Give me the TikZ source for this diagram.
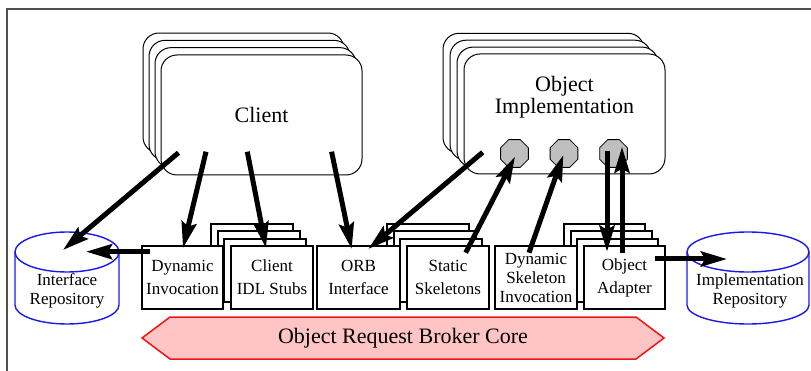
\documentclass[tikz,border=0pt]{standalone}
\usepackage{fontspec}
\setmainfont{Liberation Serif}
\usetikzlibrary{arrows.meta,shapes.geometric}
\definecolor{repoblue}{RGB}{25,25,235}
\definecolor{framegray}{RGB}{80,80,80}
\definecolor{corefill}{RGB}{255,196,196}
\definecolor{coreline}{RGB}{240,20,20}
\begin{document}
\begin{tikzpicture}[x=1pt,y=-1pt,
  layer/.style={draw, fill=white, line width=1pt, rounded corners=16pt},
  bigbox/.style={draw, fill=white, line width=1pt, rounded corners=16pt, minimum width=201pt, minimum height=120pt, inner sep=0pt, font=\fontsize{22}{22}\selectfont},
  bigtext/.style={align=center, inner sep=0pt, font=\fontsize{22}{22}\selectfont},
  slayer/.style={draw, fill=white, line width=2pt},
  smallbox/.style={draw, fill=white, line width=2pt, minimum height=63pt, inner sep=0pt, align=center, font=\fontsize{17}{23}\selectfont},
  bigarrow/.style={line width=5pt, -{Stealth[length=26pt,width=15pt,inset=4pt]}},
  port/.style={regular polygon, regular polygon sides=8, minimum size=30pt, inner sep=0pt, draw, fill=gray!50, line width=0.8pt},
  repo/.style={draw=repoblue, line width=1.4pt},
  repotext/.style={align=center, inner sep=0pt, font=\fontsize{17}{18.5}\selectfont},
]
\useasboundingbox (0,0) rectangle (811,371);
\fill[white] (0,0) rectangle (811,371);
% outer frame
\draw[framegray, line width=1.5pt] (7,371) -- (7,9) -- (811,9);

% Client stack
\foreach \k in {3,2,1} \draw[layer] ({161-6*\k},{55-7.33*\k}) rectangle +(201,120);
\node[bigbox] (client) at (261.5,115) {Client};

% Object implementation stack
\foreach \k in {3,2,1} \draw[layer] ({464-7*\k},{54-6.9*\k}) rectangle +(201,120);
\node[bigbox] (impl) at (564.5,114) {};
\node[bigtext] (impltext) at (564.5,97) {Object\\Implementation};

% ports
\node[port] (p1) at (514.5,153.5) {};
\node[port] (p2) at (564,153.5) {};
\node[port] (p3) at (613.5,153.5) {};

% lower stacks
\foreach \k in {3,2,1} {
  \draw[slayer] ({231-6.7*\k},{246-7.33*\k}) rectangle +(82,63);
  \draw[slayer] ({407-6.7*\k},{246-7.33*\k}) rectangle +(82,63);
  \draw[slayer] ({584-6.7*\k},{246-7.33*\k}) rectangle +(81,63);
}
\node[smallbox, minimum width=81pt] (di) at (182.5,277.5) {Dynamic\\Invocation};
\node[smallbox, minimum width=82pt] (idl) at (272,277.5) {Client\\IDL Stubs};
\node[smallbox, minimum width=83pt] (orb) at (358.5,277.5) {ORB\\Interface};
\node[smallbox, minimum width=82pt] (ss) at (448,277.5) {Static\\Skeletons};
\node[smallbox, minimum width=82pt, font=\fontsize{17}{19}\selectfont] (dsi) at (536,277.5) {Dynamic\\Skeleton\\Invocation};
\node[smallbox, minimum width=81pt] (oa) at (624.5,277.5) {Object\\Adapter};

% ORB core
\filldraw[fill=corefill, draw=coreline, line width=1.5pt, line join=miter]
  (142,338) -- (170,317) -- (636,317) -- (664,338) -- (636,359) -- (170,359) -- cycle;
\node[bigtext] (core) at (403,338) {Object Request Broker Core};

% repositories
\draw[repo] (67,252) ellipse [x radius=52, y radius=20];
\draw[repo] (15,252) -- (15,305) arc[start angle=180, end angle=0, x radius=52, y radius=19] -- (119,252);
\node[repotext] (ir) at (67,291) {Interface\\Repository};
\draw[repo] (748,252) ellipse [x radius=61, y radius=20];
\draw[repo] (687,252) -- (687,305) arc[start angle=180, end angle=0, x radius=61, y radius=19] -- (809,252);
\node[repotext] (imr) at (750,291) {Implementation\\Repository};

% connector end points
\coordinate (c1) at (178.5,152.7);
\coordinate (c2) at (206,151.7);
\coordinate (c3) at (247.3,151.7);
\coordinate (c4) at (331.6,151.7);
\coordinate (o1) at (482.7,152.3);
\coordinate (irin) at (63,250);
\coordinate (irside) at (86,251.7);
\coordinate (diin) at (183,248);
\coordinate (diout) at (150,251.7);
\coordinate (idlin) at (266,248);
\coordinate (orbin1) at (351.7,249);
\coordinate (orbin2) at (368.3,249);
\coordinate (ssout) at (465.7,252.7);
\coordinate (dsiout) at (529,252.7);
\coordinate (p1in) at (515,156.7);
\coordinate (p2in) at (563.3,155);
\coordinate (p3out) at (607,150.7);
\coordinate (p3in) at (622,146.7);
\coordinate (oain) at (607,251.7);
\coordinate (oaout) at (622,252.7);
\coordinate (oaside) at (655,259);
\coordinate (imrin) at (727,259);

% connectors
\draw[bigarrow] (c1) -- (irin);
\draw[bigarrow] (c2) -- (diin);
\draw[bigarrow] (c3) -- (idlin);
\draw[bigarrow] (c4) -- (orbin1);
\draw[bigarrow] (o1) -- (orbin2);
\draw[bigarrow] (ssout) -- (p1in);
\draw[bigarrow] (dsiout) -- (p2in);
\draw[bigarrow] (p3out) -- (oain);
\draw[bigarrow] (oaout) -- (p3in);
\draw[bigarrow] (diout) -- (irside);
\draw[bigarrow] (oaside) -- (imrin);
\end{tikzpicture}
\end{document}
